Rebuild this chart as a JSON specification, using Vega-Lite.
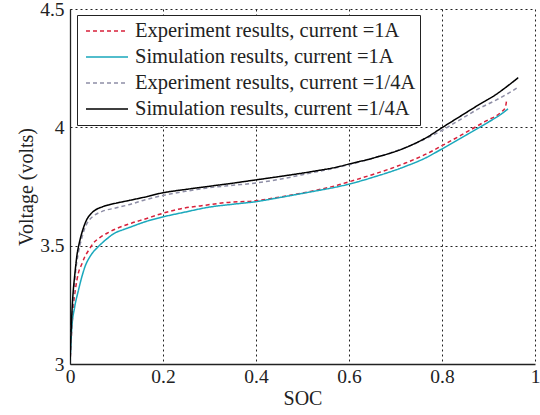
{
  "$schema": "https://vega.github.io/schema/vega-lite/v6.json",
  "autosize": {"type": "none"},
  "width": 465,
  "height": 355,
  "padding": {"left": 70, "top": 9, "right": 5, "bottom": 51},
  "background": "white",
  "config": {
    "view": {"stroke": null},
    "axis": {
      "labelFont": "Liberation Serif",
      "labelFontSize": 19.5,
      "labelColor": "#222",
      "titleFont": "Liberation Serif",
      "titleFontSize": 20,
      "titleFontWeight": "normal",
      "titleColor": "#222",
      "domainColor": "#222",
      "domainWidth": 1.3,
      "ticks": false,
      "grid": true,
      "gridColor": "#222",
      "gridDash": [2, 3],
      "gridWidth": 1,
      "gridOpacity": 1,
      "labelFlush": false,
      "labelOverlap": false
    }
  },
  "datasets": {
    "curves": [
      {"series": "Experiment results, current =1A", "soc": 0, "v": 3.0},
      {"series": "Experiment results, current =1A", "soc": 0.003, "v": 3.12},
      {"series": "Experiment results, current =1A", "soc": 0.007, "v": 3.24},
      {"series": "Experiment results, current =1A", "soc": 0.012, "v": 3.32},
      {"series": "Experiment results, current =1A", "soc": 0.018, "v": 3.384},
      {"series": "Experiment results, current =1A", "soc": 0.025, "v": 3.42},
      {"series": "Experiment results, current =1A", "soc": 0.032, "v": 3.454},
      {"series": "Experiment results, current =1A", "soc": 0.04, "v": 3.48},
      {"series": "Experiment results, current =1A", "soc": 0.05, "v": 3.51},
      {"series": "Experiment results, current =1A", "soc": 0.065, "v": 3.535},
      {"series": "Experiment results, current =1A", "soc": 0.082, "v": 3.555},
      {"series": "Experiment results, current =1A", "soc": 0.1, "v": 3.572},
      {"series": "Experiment results, current =1A", "soc": 0.132, "v": 3.595},
      {"series": "Experiment results, current =1A", "soc": 0.16, "v": 3.612},
      {"series": "Experiment results, current =1A", "soc": 0.2, "v": 3.637},
      {"series": "Experiment results, current =1A", "soc": 0.243, "v": 3.658},
      {"series": "Experiment results, current =1A", "soc": 0.28, "v": 3.668},
      {"series": "Experiment results, current =1A", "soc": 0.335, "v": 3.682},
      {"series": "Experiment results, current =1A", "soc": 0.4, "v": 3.69},
      {"series": "Experiment results, current =1A", "soc": 0.45, "v": 3.705},
      {"series": "Experiment results, current =1A", "soc": 0.514, "v": 3.728},
      {"series": "Experiment results, current =1A", "soc": 0.578, "v": 3.757},
      {"series": "Experiment results, current =1A", "soc": 0.6, "v": 3.77},
      {"series": "Experiment results, current =1A", "soc": 0.65, "v": 3.8},
      {"series": "Experiment results, current =1A", "soc": 0.72, "v": 3.848},
      {"series": "Experiment results, current =1A", "soc": 0.771, "v": 3.892},
      {"series": "Experiment results, current =1A", "soc": 0.792, "v": 3.914},
      {"series": "Experiment results, current =1A", "soc": 0.842, "v": 3.968},
      {"series": "Experiment results, current =1A", "soc": 0.892, "v": 4.024},
      {"series": "Experiment results, current =1A", "soc": 0.928, "v": 4.066},
      {"series": "Experiment results, current =1A", "soc": 0.936, "v": 4.083},
      {"series": "Experiment results, current =1A", "soc": 0.939, "v": 4.115},

      {"series": "Simulation results, current =1A", "soc": 0, "v": 3.0},
      {"series": "Simulation results, current =1A", "soc": 0.0036, "v": 3.145},
      {"series": "Simulation results, current =1A", "soc": 0.01, "v": 3.24},
      {"series": "Simulation results, current =1A", "soc": 0.018, "v": 3.31},
      {"series": "Simulation results, current =1A", "soc": 0.025, "v": 3.365},
      {"series": "Simulation results, current =1A", "soc": 0.032, "v": 3.41},
      {"series": "Simulation results, current =1A", "soc": 0.045, "v": 3.46},
      {"series": "Simulation results, current =1A", "soc": 0.061, "v": 3.496},
      {"series": "Simulation results, current =1A", "soc": 0.08, "v": 3.53},
      {"series": "Simulation results, current =1A", "soc": 0.096, "v": 3.553},
      {"series": "Simulation results, current =1A", "soc": 0.115, "v": 3.568},
      {"series": "Simulation results, current =1A", "soc": 0.132, "v": 3.58},
      {"series": "Simulation results, current =1A", "soc": 0.16, "v": 3.6},
      {"series": "Simulation results, current =1A", "soc": 0.203, "v": 3.623},
      {"series": "Simulation results, current =1A", "soc": 0.243, "v": 3.64},
      {"series": "Simulation results, current =1A", "soc": 0.3, "v": 3.663},
      {"series": "Simulation results, current =1A", "soc": 0.35, "v": 3.675},
      {"series": "Simulation results, current =1A", "soc": 0.4, "v": 3.686},
      {"series": "Simulation results, current =1A", "soc": 0.45, "v": 3.703},
      {"series": "Simulation results, current =1A", "soc": 0.514, "v": 3.726},
      {"series": "Simulation results, current =1A", "soc": 0.578, "v": 3.75},
      {"series": "Simulation results, current =1A", "soc": 0.6, "v": 3.76},
      {"series": "Simulation results, current =1A", "soc": 0.65, "v": 3.788},
      {"series": "Simulation results, current =1A", "soc": 0.72, "v": 3.834},
      {"series": "Simulation results, current =1A", "soc": 0.771, "v": 3.877},
      {"series": "Simulation results, current =1A", "soc": 0.792, "v": 3.9},
      {"series": "Simulation results, current =1A", "soc": 0.842, "v": 3.956},
      {"series": "Simulation results, current =1A", "soc": 0.892, "v": 4.013},
      {"series": "Simulation results, current =1A", "soc": 0.928, "v": 4.057},
      {"series": "Simulation results, current =1A", "soc": 0.942, "v": 4.078},

      {"series": "Experiment results, current =1/4A", "soc": 0, "v": 3.0},
      {"series": "Experiment results, current =1/4A", "soc": 0.003, "v": 3.15},
      {"series": "Experiment results, current =1/4A", "soc": 0.008, "v": 3.3},
      {"series": "Experiment results, current =1/4A", "soc": 0.012, "v": 3.39},
      {"series": "Experiment results, current =1/4A", "soc": 0.018, "v": 3.47},
      {"series": "Experiment results, current =1/4A", "soc": 0.025, "v": 3.53},
      {"series": "Experiment results, current =1/4A", "soc": 0.032, "v": 3.575},
      {"series": "Experiment results, current =1/4A", "soc": 0.04, "v": 3.605},
      {"series": "Experiment results, current =1/4A", "soc": 0.05, "v": 3.625},
      {"series": "Experiment results, current =1/4A", "soc": 0.068, "v": 3.644},
      {"series": "Experiment results, current =1/4A", "soc": 0.1, "v": 3.66},
      {"series": "Experiment results, current =1/4A", "soc": 0.132, "v": 3.676},
      {"series": "Experiment results, current =1/4A", "soc": 0.16, "v": 3.693},
      {"series": "Experiment results, current =1/4A", "soc": 0.2, "v": 3.712},
      {"series": "Experiment results, current =1/4A", "soc": 0.25, "v": 3.73},
      {"series": "Experiment results, current =1/4A", "soc": 0.3, "v": 3.745},
      {"series": "Experiment results, current =1/4A", "soc": 0.35, "v": 3.755},
      {"series": "Experiment results, current =1/4A", "soc": 0.4, "v": 3.765},
      {"series": "Experiment results, current =1/4A", "soc": 0.45, "v": 3.78},
      {"series": "Experiment results, current =1/4A", "soc": 0.5, "v": 3.8},
      {"series": "Experiment results, current =1/4A", "soc": 0.55, "v": 3.82},
      {"series": "Experiment results, current =1/4A", "soc": 0.6, "v": 3.842},
      {"series": "Experiment results, current =1/4A", "soc": 0.65, "v": 3.869},
      {"series": "Experiment results, current =1/4A", "soc": 0.72, "v": 3.913},
      {"series": "Experiment results, current =1/4A", "soc": 0.771, "v": 3.958},
      {"series": "Experiment results, current =1/4A", "soc": 0.798, "v": 3.985},
      {"series": "Experiment results, current =1/4A", "soc": 0.842, "v": 4.036},
      {"series": "Experiment results, current =1/4A", "soc": 0.878, "v": 4.078},
      {"series": "Experiment results, current =1/4A", "soc": 0.914, "v": 4.113},
      {"series": "Experiment results, current =1/4A", "soc": 0.942, "v": 4.143},
      {"series": "Experiment results, current =1/4A", "soc": 0.964, "v": 4.17},

      {"series": "Simulation results, current =1/4A", "soc": 0, "v": 3.0},
      {"series": "Simulation results, current =1/4A", "soc": 0.002, "v": 3.12},
      {"series": "Simulation results, current =1/4A", "soc": 0.005, "v": 3.25},
      {"series": "Simulation results, current =1/4A", "soc": 0.0107, "v": 3.385},
      {"series": "Simulation results, current =1/4A", "soc": 0.015, "v": 3.46},
      {"series": "Simulation results, current =1/4A", "soc": 0.021, "v": 3.52},
      {"series": "Simulation results, current =1/4A", "soc": 0.028, "v": 3.57},
      {"series": "Simulation results, current =1/4A", "soc": 0.036, "v": 3.61},
      {"series": "Simulation results, current =1/4A", "soc": 0.045, "v": 3.635},
      {"series": "Simulation results, current =1/4A", "soc": 0.054, "v": 3.65},
      {"series": "Simulation results, current =1/4A", "soc": 0.068, "v": 3.663},
      {"series": "Simulation results, current =1/4A", "soc": 0.082, "v": 3.672},
      {"series": "Simulation results, current =1/4A", "soc": 0.1, "v": 3.68},
      {"series": "Simulation results, current =1/4A", "soc": 0.132, "v": 3.693},
      {"series": "Simulation results, current =1/4A", "soc": 0.16, "v": 3.705},
      {"series": "Simulation results, current =1/4A", "soc": 0.196, "v": 3.722},
      {"series": "Simulation results, current =1/4A", "soc": 0.25, "v": 3.738},
      {"series": "Simulation results, current =1/4A", "soc": 0.3, "v": 3.751},
      {"series": "Simulation results, current =1/4A", "soc": 0.35, "v": 3.764},
      {"series": "Simulation results, current =1/4A", "soc": 0.4, "v": 3.778},
      {"series": "Simulation results, current =1/4A", "soc": 0.45, "v": 3.792},
      {"series": "Simulation results, current =1/4A", "soc": 0.52, "v": 3.813},
      {"series": "Simulation results, current =1/4A", "soc": 0.578, "v": 3.834},
      {"series": "Simulation results, current =1/4A", "soc": 0.6, "v": 3.845},
      {"series": "Simulation results, current =1/4A", "soc": 0.65, "v": 3.869},
      {"series": "Simulation results, current =1/4A", "soc": 0.72, "v": 3.913},
      {"series": "Simulation results, current =1/4A", "soc": 0.771, "v": 3.962},
      {"series": "Simulation results, current =1/4A", "soc": 0.798, "v": 3.996},
      {"series": "Simulation results, current =1/4A", "soc": 0.842, "v": 4.05},
      {"series": "Simulation results, current =1/4A", "soc": 0.878, "v": 4.094},
      {"series": "Simulation results, current =1/4A", "soc": 0.914, "v": 4.136},
      {"series": "Simulation results, current =1/4A", "soc": 0.942, "v": 4.176},
      {"series": "Simulation results, current =1/4A", "soc": 0.964, "v": 4.21}
    ]
  },
  "data": {"name": "curves"},
  "mark": {"type": "line", "strokeWidth": 1.5, "clip": true, "interpolate": "monotone"},
  "encoding": {
    "x": {
      "field": "soc", "type": "quantitative",
      "scale": {"domain": [0, 1], "nice": false, "zero": false},
      "axis": {"title": "SOC", "values": [0, 0.2, 0.4, 0.6, 0.8, 1], "format": "~g", "labelPadding": 3, "titlePadding": 3}
    },
    "y": {
      "field": "v", "type": "quantitative",
      "scale": {"domain": [3, 4.5], "nice": false, "zero": false},
      "axis": {"title": "Voltage (volts)", "values": [3, 3.5, 4, 4.5], "format": "~g", "labelPadding": 6, "titlePadding": 3}
    },
    "color": {
      "field": "series", "type": "nominal",
      "scale": {
        "domain": ["Experiment results, current =1A", "Simulation results, current =1A", "Experiment results, current =1/4A", "Simulation results, current =1/4A"],
        "range": ["#d8203a", "#1aa8bc", "#8e8ea6", "#000000"]
      },
      "legend": {
        "title": null,
        "orient": "none",
        "legendX": 7,
        "legendY": 6,
        "strokeColor": "#222",
        "fillColor": "white",
        "padding": 4,
        "clipHeight": 24,
        "symbolOffset": 4,
        "symbolType": "stroke",
        "symbolSize": 1764,
        "symbolStrokeWidth": 1.5,
        "labelFont": "Liberation Serif",
        "labelFontSize": 20.5,
        "labelColor": "#222",
        "labelLimit": 400,
        "labelOffset": 6,
        "rowPadding": 2
      }
    },
    "strokeDash": {
      "field": "series", "type": "nominal",
      "scale": {
        "domain": ["Experiment results, current =1A", "Simulation results, current =1A", "Experiment results, current =1/4A", "Simulation results, current =1/4A"],
        "range": [[4, 3], [1, 0], [4, 3], [1, 0]]
      },
      "legend": null
    }
  }
}
